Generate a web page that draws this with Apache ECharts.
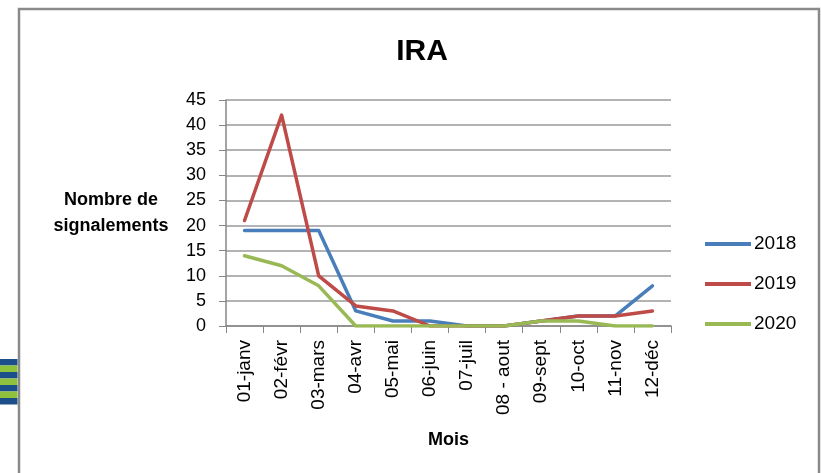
<!DOCTYPE html>
<html><head><meta charset="utf-8">
<script src="https://cdn.jsdelivr.net/npm/echarts@6/dist/echarts.min.js"></script>
<style>html,body{margin:0;padding:0;background:#fff}#c{width:821px;height:473px}</style>
</head><body><div id="c"></div>
<script>
const categories = ['01-janv','02-févr','03-mars','04-avr','05-mai','06-juin','07-juil','08 - aout','09-sept','10-oct','11-nov','12-déc'];
const s2018 = [19,19,19,3,1,1,0,0,1,2,2,8];
const s2019 = [21,42,10,4,3,0,0,0,1,2,2,3];
const s2020 = [14,12,8,0,0,0,0,0,1,1,0,0];
const seriesNames = ['2018','2019','2020'];
const colors = ['#4a7ebb','#be4b48','#98b954'];
const font = "'Liberation Sans', Arial, sans-serif";
const chart = echarts.init(document.getElementById('c'));
const mk = (name, data, i) => ({
  name, type:'line', data, symbol:'none', smooth:false,
  lineStyle:{width:3.5, color:colors[i], cap:'round', join:'round'},
  itemStyle:{color:colors[i]}
});
chart.setOption({
  animation:false,
  title:{text:'IRA', left:417, textAlign:'center', top:32,
    textStyle:{fontFamily:font, fontWeight:'bold', fontSize:30, color:'#000'}},
  grid:{left:226, right:150, top:100, bottom:147},
  legend:{orient:'vertical', left:700, top:228, itemWidth:46, itemHeight:4, itemGap:18, icon:'rect',
    textStyle:{fontFamily:font, fontSize:19, color:'#000', lineHeight:22, padding:[0,0,0,-2]},
    data:seriesNames},
  xAxis:{type:'category', data:categories, boundaryGap:true,
    name:'Mois', nameLocation:'middle', nameGap:105,
    nameTextStyle:{fontFamily:font, fontWeight:'bold', fontSize:18, color:'#000'},
    axisLine:{lineStyle:{color:'#868686', width:1.5}},
    axisTick:{show:true, length:7, alignWithLabel:false, lineStyle:{color:'#868686'}},
    axisLabel:{rotate:90, interval:0, margin:14, fontFamily:font, fontSize:19, color:'#000'}},
  yAxis:{type:'value', min:0, max:45, interval:5,
    name:'Nombre de\nsignalements', nameLocation:'middle', nameRotate:0, nameGap:115,
    nameTextStyle:{fontFamily:font, fontWeight:'bold', fontSize:18, color:'#000', align:'center', lineHeight:26},
    axisLine:{show:true, lineStyle:{color:'#868686', width:1.5}},
    axisTick:{show:true, length:7, lineStyle:{color:'#868686'}},
    splitLine:{lineStyle:{color:'#9a9a9a', width:1.5}},
    axisLabel:{margin:20, fontFamily:font, fontSize:18, color:'#000'}},
  series:[mk('2018', s2018, 0), mk('2019', s2019, 1), mk('2020', s2020, 2)],
  graphic:[
    {type:'rect', shape:{x:19, y:9, width:800, height:480}, style:{fill:'none', stroke:'#8a8a8a', lineWidth:2.5}, silent:true},
    {type:'group', left:0, top:359, children:[0,1,2,3,4,5,6].map(k=>({type:'rect', shape:{x:0, y:k*6.5, width:17.5, height:6.5}, style:{fill:k%2===0?'#1c4f8a':'#8fc23c'}}))}
  ]
});
</script></body></html>
